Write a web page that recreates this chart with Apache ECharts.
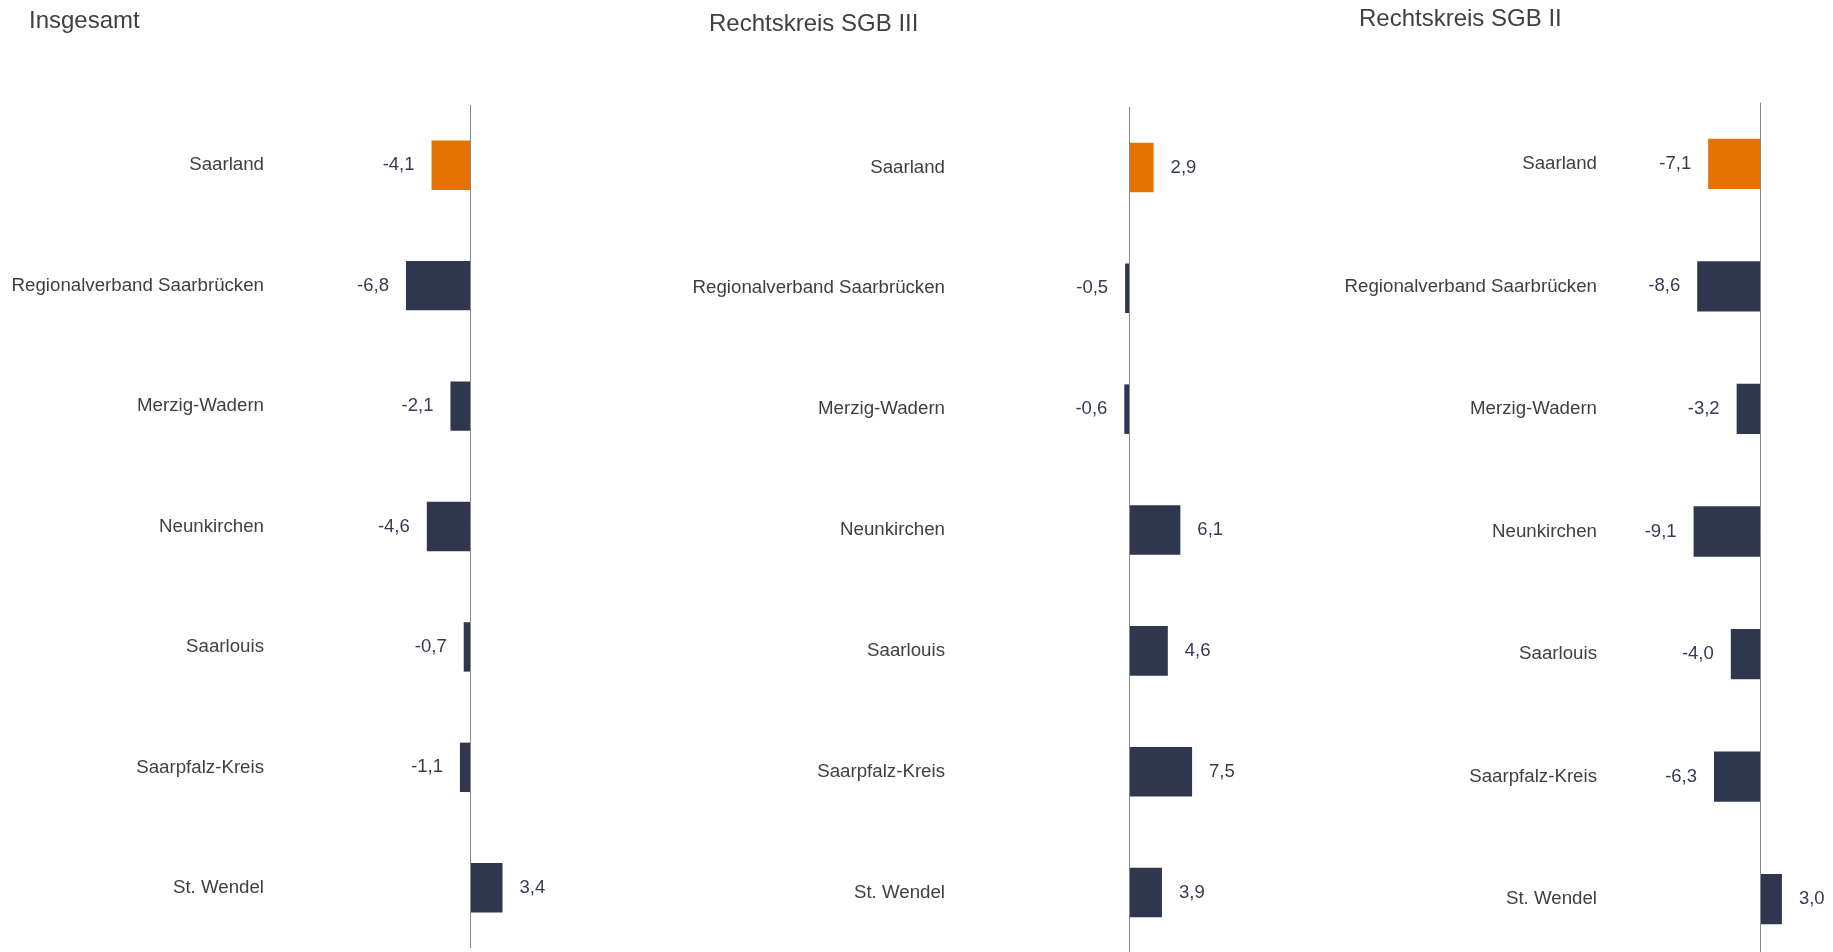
<!DOCTYPE html>
<html>
<head>
<meta charset="utf-8">
<title>Veränderung nach Kreisen</title>
<script src="https://cdn.jsdelivr.net/npm/echarts@6/dist/echarts.min.js"></script>
<style>
  html, body { margin: 0; padding: 0; background: #ffffff; overflow: hidden; }
  /* the last panel's axis runs past the bottom edge of the window */
  #chart { width: 1833px; height: 980px; }
</style>
</head>
<body>
<div id="chart"></div>
<script>
// Regions, top to bottom
const categories = ['Saarland', 'Regionalverband Saarbrücken', 'Merzig-Wadern', 'Neunkirchen', 'Saarlouis', 'Saarpfalz-Kreis', 'St. Wendel'];

// Change in percent per region
const insgesamt = [-4.1, -6.8, -2.1, -4.6, -0.7, -1.1, 3.4];
const sgb3 = [2.9, -0.5, -0.6, 6.1, 4.6, 7.5, 3.9];
const sgb2 = [-7.1, -8.6, -3.2, -9.1, -4.0, -6.3, 3.0];

const panelTitles = ['Insgesamt', 'Rechtskreis SGB III', 'Rechtskreis SGB II'];
const panelData = [insgesamt, sgb3, sgb2];

const FONT = '"Liberation Sans", Arial, Helvetica, sans-serif';
const NAVY = '#2f374e';
const ORANGE = '#e37300';
const HIGHLIGHT = 'Saarland';

// Grid placement for each panel
const grids = [
  { left: 281, top: 105, width: 284, height: 843 },
  { left: 962, top: 107, width: 251, height: 846 },
  { left: 1614, top: 102.5, width: 219, height: 858 }
];
const titlePos = [
  { x: 29, y: 21 },
  { x: 709, y: 24 },
  { x: 1359, y: 19 }
];

const fmt = v => v.toFixed(1).replace('.', ',');

const option = {
  animation: false,
  backgroundColor: '#ffffff',
  textStyle: { fontFamily: FONT },
  graphic: panelTitles.map((t, i) => ({
    type: 'text',
    x: titlePos[i].x,
    y: titlePos[i].y,
    style: {
      text: t,
      fontSize: 24,
      fontFamily: FONT,
      fill: '#404040',
      verticalAlign: 'middle',
      align: 'left'
    }
  })),
  grid: grids.map(g => Object.assign({ containLabel: false }, g)),
  xAxis: grids.map((g, i) => ({
    type: 'value',
    gridIndex: i,
    min: -20,
    max: 10,
    show: false
  })),
  yAxis: grids.map((g, i) => ({
    type: 'category',
    gridIndex: i,
    data: categories,
    inverse: true,
    axisLine: { show: false, onZero: false },
    axisTick: { show: false },
    splitLine: { show: false },
    axisLabel: {
      margin: 17,
      fontSize: 18.7,
      color: '#404040',
      fontFamily: FONT
    }
  })),
  series: panelData.map((vals, i) => ({
    type: 'bar',
    xAxisIndex: i,
    yAxisIndex: i,
    barWidth: '41%',
    data: vals.map((v, k) => ({
      value: v,
      itemStyle: { color: categories[k] === HIGHLIGHT ? ORANGE : NAVY },
      label: { position: v < 0 ? 'left' : 'right' }
    })),
    label: {
      show: true,
      distance: 17,
      fontSize: 18.5,
      fontFamily: FONT,
      color: '#343b52',
      formatter: p => fmt(p.value)
    },
    markLine: {
      silent: true,
      symbol: 'none',
      label: { show: false },
      lineStyle: { color: '#888888', width: 1, type: 'solid' },
      data: [{ xAxis: 0 }]
    }
  }))
};

const chart = echarts.init(document.getElementById('chart'), null, { renderer: 'canvas' });
chart.setOption(option);
</script>
</body>
</html>
